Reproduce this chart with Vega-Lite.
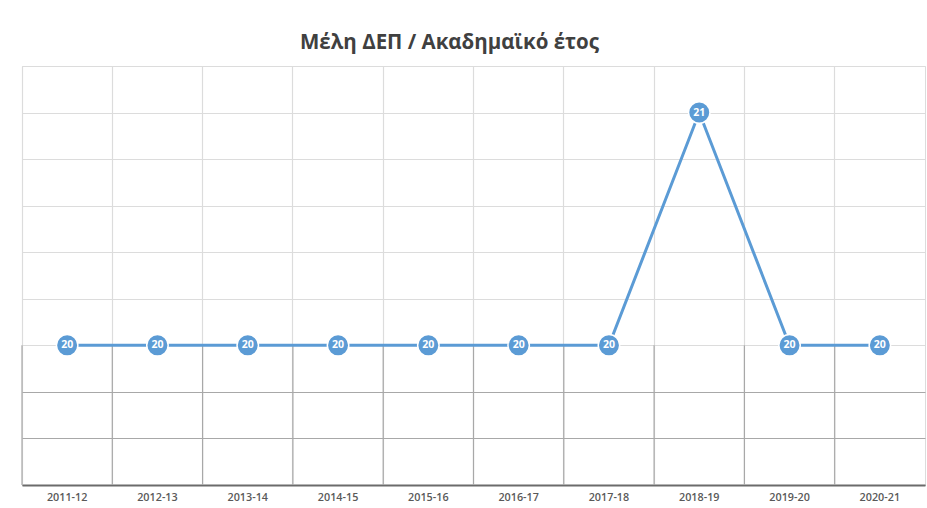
{
  "$schema": "https://vega.github.io/schema/vega-lite/v6.json",
  "width": 903,
  "height": 419,
  "autosize": {"type": "none"},
  "padding": {"left": 22, "top": 66, "right": 2, "bottom": 23},
  "background": "white",
  "title": {
    "text": "Μέλη ΔΕΠ / Ακαδημαϊκό έτος",
    "font": "Open Sans",
    "fontSize": 20.5,
    "fontWeight": "bold",
    "color": "#404040",
    "offset": 13,
    "dx": -24
  },
  "config": {
    "view": {"stroke": "#dcdcdc", "strokeWidth": 1},
    "axis": {"labelFont": "Open Sans"}
  },
  "data": {
    "values": [
      {"year": "2011-12", "members": 20},
      {"year": "2012-13", "members": 20},
      {"year": "2013-14", "members": 20},
      {"year": "2014-15", "members": 20},
      {"year": "2015-16", "members": 20},
      {"year": "2016-17", "members": 20},
      {"year": "2017-18", "members": 20},
      {"year": "2018-19", "members": 21},
      {"year": "2019-20", "members": 20},
      {"year": "2020-21", "members": 20}
    ]
  },
  "encoding": {
    "x": {
      "field": "year",
      "type": "ordinal",
      "sort": null,
      "scale": {"paddingInner": 0, "paddingOuter": 0},
      "axis": {
        "title": null,
        "labelAngle": 0,
        "labelFontSize": 10.8,
        "labelFontWeight": 600,
        "labelColor": "#595959",
        "labelPadding": 6,
        "ticks": false,
        "domainColor": "#6b6b6b",
        "domainWidth": 2,
        "grid": true,
        "bandPosition": 0,
        "gridColor": "#dcdcdc",
        "gridWidth": 1.2
      }
    },
    "y": {
      "field": "members",
      "type": "quantitative",
      "scale": {"domain": [19.4, 21.2], "nice": false, "zero": false},
      "axis": {
        "title": null,
        "grid": true,
        "labels": false,
        "ticks": false,
        "domain": false,
        "values": [19.4, 19.6, 19.8, 20, 20.2, 20.4, 20.6, 20.8, 21, 21.2],
        "gridColor": {"condition": {"test": "datum.value < 19.9", "value": "#a8a8a8"}, "value": "#dcdcdc"},
        "gridWidth": 1.2
      }
    }
  },
  "layer": [
    {
      "mark": {"type": "rule", "color": "#a8a8a8", "strokeWidth": 1.2},
      "encoding": {
        "x": {"field": "year", "type": "ordinal", "sort": null, "bandPosition": 0},
        "y": {"datum": 19.4, "type": "quantitative"},
        "y2": {"datum": 20}
      }
    },
    {
      "mark": {"type": "line", "color": "#5b9bd5", "strokeWidth": 3},
      "encoding": {}
    },
    {
      "mark": {"type": "circle", "size": 460, "color": "#5b9bd5", "opacity": 1, "stroke": "white", "strokeWidth": 1.5},
      "encoding": {}
    },
    {
      "mark": {"type": "text", "color": "white", "font": "Open Sans", "fontSize": 10.5, "fontWeight": "bold", "baseline": "middle", "align": "center"},
      "encoding": {
        "text": {"field": "members", "type": "quantitative"}
      }
    }
  ]
}
